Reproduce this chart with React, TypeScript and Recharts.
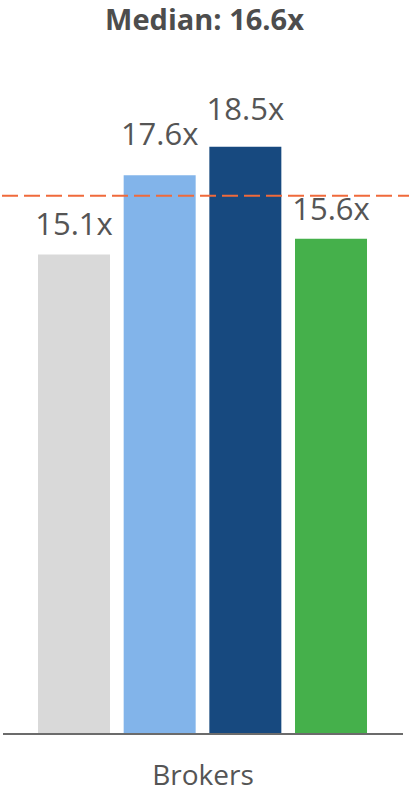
import React from 'react';
import { BarChart, Bar, XAxis, YAxis, ReferenceLine, LabelList } from 'recharts';

const categories = ['Brokers'];
const seriesNames = ['s1', 's2', 's3', 's4'];
const seriesValues = [15.1, 17.6, 18.5, 15.6];
const seriesColors = ['#d9d9d9', '#82b4ea', '#17497f', '#45b04b'];
const labelOffsets = [20, 30, 27, 19];
const medianLabel = 'Median: 16.6x';
const medianLineValue = 16.95;

const data = categories.map((name) => {
  const row: Record<string, any> = { name };
  seriesNames.forEach((s, i) => {
    row[s] = seriesValues[i];
  });
  return row;
});

const FONT = '"Open Sans", sans-serif';

const DashedLine = (props: any) => {
  const { x1, y1, y2 } = props;
  return (
    <line
      x1={x1 - 1}
      y1={y1}
      x2={409}
      y2={y2}
      stroke="#f06a3b"
      strokeWidth={2}
      strokeDasharray="16 6"
    />
  );
};

export default function App() {
  return (
    <div style={{ position: 'absolute', left: 0, top: 0, width: 409, height: 793, background: '#fff', fontFamily: FONT }}>
      <div
        style={{
          position: 'absolute',
          left: 0,
          top: 0,
          width: 409,
          textAlign: 'center',
          fontSize: 29,
          fontWeight: 700,
          color: '#4d4d4d',
          lineHeight: '38px',
          fontFamily: FONT,
        }}
      >
        {medianLabel}
      </div>
      <BarChart
        width={409}
        height={793}
        data={data}
        margin={{ top: 99, right: 6, bottom: 9, left: 3 }}
        barSize={72}
        barGap={13.67}
        style={{ fontFamily: FONT }}
      >
        <XAxis
          dataKey="name"
          height={50}
          tickLine={false}
          tickSize={0}
          tickMargin={31}
          axisLine={{ stroke: '#6b6b6b', strokeWidth: 2 }}
          tick={{ fill: '#555555', fontSize: 28, fontFamily: FONT }}
        />
        <YAxis hide domain={[0, 20]} />
        {seriesNames.map((s, i) => (
          <Bar key={s} dataKey={s} fill={seriesColors[i]} isAnimationActive={false}>
            <LabelList
              dataKey={s}
              position="top"
              offset={labelOffsets[i]}
              fill="#555555"
              fontSize={31}
              fontFamily={FONT}
              formatter={(v: any) => `${Number(v).toFixed(1)}x`}
            />
          </Bar>
        ))}
        <ReferenceLine y={medianLineValue} shape={DashedLine} />
      </BarChart>
    </div>
  );
}
